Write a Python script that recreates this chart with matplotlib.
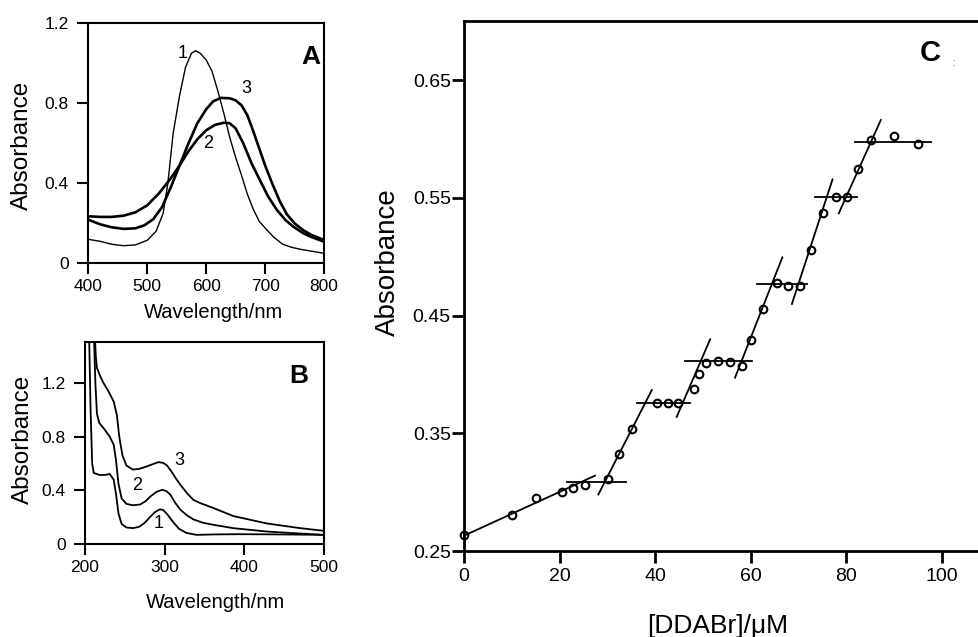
import matplotlib
matplotlib.use("Agg")
import matplotlib.pyplot as plt
from matplotlib.ticker import FixedLocator, FuncFormatter

plt.rcParams['font.family'] = ['Liberation Sans', 'DejaVu Sans']

# ---------------- Panel A: visible spectra ----------------
a_wl_1 = [400, 420, 440, 460, 480, 500, 515, 527, 535, 544, 555, 565, 575, 582, 590, 600,
          610, 620, 630, 640, 650, 660, 670, 680, 690, 703, 715, 730, 745, 760, 780, 800]
a_abs_1 = [0.12, 0.11, 0.095, 0.088, 0.092, 0.115, 0.16, 0.25, 0.40, 0.65, 0.84, 0.98, 1.05,
           1.063, 1.05, 1.017, 0.96, 0.86, 0.75, 0.63, 0.53, 0.44, 0.345, 0.27, 0.21, 0.167,
           0.13, 0.095, 0.08, 0.07, 0.06, 0.05]
a_wl_2 = [400, 420, 440, 460, 480, 500, 520, 540, 555, 570, 585, 600, 615, 630, 640, 650,
          663, 677, 691, 705, 720, 735, 748, 765, 780, 800]
a_abs_2 = [0.235, 0.232, 0.232, 0.238, 0.255, 0.29, 0.35, 0.425, 0.49, 0.56, 0.62, 0.665,
           0.692, 0.703, 0.70, 0.675, 0.60, 0.50, 0.417, 0.335, 0.267, 0.215, 0.183, 0.15,
           0.13, 0.108]
a_wl_3 = [400, 420, 440, 460, 480, 495, 510, 525, 540, 555, 570, 585, 600, 612, 625, 640,
          650, 660, 670, 680, 690, 700, 712, 725, 737, 750, 765, 780, 800]
a_abs_3 = [0.218, 0.195, 0.18, 0.172, 0.175, 0.19, 0.22, 0.28, 0.38, 0.49, 0.60, 0.70, 0.77,
           0.81, 0.827, 0.825, 0.815, 0.79, 0.74, 0.66, 0.575, 0.49, 0.40, 0.31, 0.245, 0.2,
           0.165, 0.14, 0.117]

# ---------------- Panel B: UV spectra ----------------
b_wl_1 = [205, 207, 209, 211, 218, 225, 231, 236, 239, 242, 246, 252, 260, 268, 275, 282,
          288, 294, 298, 303, 310, 318, 327, 340, 360, 390, 430, 470, 500]
b_abs_1 = [1.6, 1.0, 0.6, 0.53, 0.515, 0.515, 0.522, 0.48, 0.37, 0.23, 0.15, 0.125, 0.12,
           0.13, 0.16, 0.205, 0.24, 0.26, 0.255, 0.225, 0.17, 0.115, 0.085, 0.07, 0.073,
           0.075, 0.074, 0.072, 0.07]
b_wl_2 = [211, 213, 215, 218, 223, 231, 236, 239, 242, 246, 252, 260, 269, 276, 283, 290,
          297, 302, 307, 313, 320, 328, 336, 348, 361, 386, 428, 470, 500]
b_abs_2 = [1.6, 1.2, 0.97, 0.9, 0.865, 0.80, 0.74, 0.62, 0.45, 0.34, 0.30, 0.29, 0.295,
           0.32, 0.36, 0.39, 0.405, 0.395, 0.37, 0.31, 0.255, 0.215, 0.185, 0.16, 0.145,
           0.12, 0.095, 0.08, 0.07]
b_wl_3 = [212, 213.5, 215, 219, 223, 230, 236, 240, 243, 247, 252, 260, 268, 276, 285, 292,
          298, 303, 308, 314, 320, 328, 336, 345, 361, 386, 428, 470, 500]
b_abs_3 = [1.6, 1.4, 1.31, 1.25, 1.2, 1.13, 1.06, 0.96, 0.80, 0.66, 0.585, 0.555, 0.56,
           0.575, 0.595, 0.61, 0.605, 0.585, 0.545, 0.49, 0.44, 0.38, 0.33, 0.305, 0.27,
           0.21, 0.155, 0.12, 0.10]

# ---------------- Panel C: titration ----------------
c_conc = [0, 10.1, 15.1, 20.4, 22.9, 25.3, 30.1, 32.5, 35.1, 40.3, 42.7, 44.8, 48.2, 49.2,
          50.6, 53.2, 55.6, 58.1, 60.0, 62.5, 65.4, 67.8, 70.3, 72.5, 75.0, 77.8, 80.1,
          82.5, 85.1, 90.0, 95.0]
c_abs = [0.264, 0.281, 0.2948, 0.2998, 0.3033, 0.306, 0.311, 0.332, 0.354, 0.3755, 0.3755,
         0.3755, 0.3876, 0.400, 0.4095, 0.4117, 0.411, 0.4074, 0.4293, 0.456, 0.478,
         0.4754, 0.4751, 0.5057, 0.5369, 0.5508, 0.5508, 0.575, 0.5992, 0.6023, 0.5955]

# fitted line segments (start/end concentration and absorbance)
seg_x0 = [0.0, 21.5, 28.1, 36.1, 44.5, 46.2, 56.7, 61.2, 68.6, 73.4, 78.4, 81.8]
seg_y0 = [0.263, 0.3084, 0.298, 0.3755, 0.364, 0.4114, 0.3973, 0.4768, 0.4599, 0.5508,
          0.5369, 0.5978]
seg_x1 = [27.4, 33.8, 39.3, 47.3, 51.5, 60.2, 66.6, 71.7, 77.1, 82.3, 87.2, 97.7]
seg_y1 = [0.314, 0.3084, 0.3868, 0.3755, 0.4299, 0.4114, 0.4995, 0.4768, 0.5658, 0.5508,
          0.6162, 0.5978]

W, H = 979, 637
fig = plt.figure(figsize=(W / 100, H / 100), dpi=100)


def box(px_left, px_top, px_right, px_bottom):
    return [px_left / W, (H - px_bottom) / H, (px_right - px_left) / W,
            (px_bottom - px_top) / H]


def plain(v, _):
    s = f"{v:.2f}".rstrip('0').rstrip('.')
    return s


# Panel A
axA = fig.add_axes(box(88.3, 23.3, 324, 263.3))
axA.plot(a_wl_1, a_abs_1, color='black', lw=1.0)
axA.plot(a_wl_2, a_abs_2, color='black', lw=1.9)
axA.plot(a_wl_3, a_abs_3, color='black', lw=1.9)
axA.set_xlim(400, 800)
axA.set_ylim(0, 1.2)
axA.xaxis.set_major_locator(FixedLocator([400, 500, 600, 700, 800]))
axA.yaxis.set_major_locator(FixedLocator([0, 0.4, 0.8, 1.2]))
axA.yaxis.set_major_formatter(FuncFormatter(plain))
axA.text(560, 1.05, '1', fontsize=13, ha='center', va='center')
axA.text(604, 0.60, '2', fontsize=13, ha='center', va='center')
axA.text(668, 0.875, '3', fontsize=13, ha='center', va='center')
axA.text(778, 1.03, 'A', fontsize=19, fontweight='bold', ha='center', va='center')
axA.set_xlabel('Wavelength/nm', fontsize=14.5, va='center')
axA.xaxis.set_label_coords((214 - 88.3) / (324 - 88.3), (263.3 - 313) / 240)
axA.set_ylabel('Absorbance', fontsize=17.5, va='center')
axA.yaxis.set_label_coords((22 - 88.3) / (324 - 88.3), (263.3 - 145) / 240)

# Panel B
axB = fig.add_axes(box(85, 342.3, 324, 544.3))
axB.plot(b_wl_1, b_abs_1, color='black', lw=1.3)
axB.plot(b_wl_2, b_abs_2, color='black', lw=1.3)
axB.plot(b_wl_3, b_abs_3, color='black', lw=1.3)
axB.set_xlim(200, 500)
axB.set_ylim(0, 1.5)
axB.xaxis.set_major_locator(FixedLocator([200, 300, 400, 500]))
axB.yaxis.set_major_locator(FixedLocator([0, 0.4, 0.8, 1.2]))
axB.yaxis.set_major_formatter(FuncFormatter(plain))
axB.text(292, 0.155, '1', fontsize=13, ha='center', va='center')
axB.text(265, 0.44, '2', fontsize=13, ha='center', va='center')
axB.text(319, 0.62, '3', fontsize=13, ha='center', va='center')
axB.text(468, 1.25, 'B', fontsize=19, fontweight='bold', ha='center', va='center')
axB.set_xlabel('Wavelength/nm', fontsize=14.5, va='center')
axB.xaxis.set_label_coords((216 - 85) / (324 - 85), (544.3 - 602) / 202)
axB.set_ylabel('Absorbance', fontsize=17.5, va='center')
axB.yaxis.set_label_coords((23 - 85) / (324 - 85), (544.3 - 439) / 202)

for ax in (axA, axB):
    for sp in ax.spines.values():
        sp.set_linewidth(1.5)
    ax.tick_params(axis='both', direction='out', length=8, width=1.5, labelsize=12.5)
    ax.tick_params(axis='y', pad=6)
    ax.tick_params(axis='x', pad=3)

# Panel C
c_px_per_unit = 4.78
c_xmax = 110
axC = fig.add_axes(box(464, 21.4, 464 + c_xmax * c_px_per_unit, 551))
for x0, y0, x1, y1 in zip(seg_x0, seg_y0, seg_x1, seg_y1):
    axC.plot([x0, x1], [y0, y1], color='black', lw=1.3, clip_on=False)
axC.plot(c_conc, c_abs, linestyle='none', marker='o', ms=5.5, mfc='none',
         mec='black', mew=1.5, clip_on=False)
axC.set_xlim(0, c_xmax)
axC.set_ylim(0.25, 0.70)
axC.xaxis.set_major_locator(FixedLocator([0, 20, 40, 60, 80, 100]))
axC.yaxis.set_major_locator(FixedLocator([0.25, 0.35, 0.45, 0.55, 0.65]))
axC.yaxis.set_major_formatter(FuncFormatter(lambda v, _: f"{v:.2f}"))
for sp in axC.spines.values():
    sp.set_linewidth(2.0)
axC.tick_params(axis='both', direction='out', length=8.5, width=2.0, labelsize=14)
axC.tick_params(axis='y', pad=1)
axC.tick_params(axis='x', pad=3.5)
axC.text(97.5, 0.673, 'C', fontsize=21, fontweight='bold', ha='center', va='center')
axC.text(102.3, 0.665, ':', fontsize=7, color='#333333', ha='center', va='center')
axC_w = c_xmax * c_px_per_unit
axC.set_xlabel('[DDABr]/\u03bcM', fontsize=19, va='center')
axC.xaxis.set_label_coords((718 - 464) / axC_w, (551 - 626) / 529.6)
axC.set_ylabel('Absorbance', fontsize=20, va='center')
axC.yaxis.set_label_coords((388 - 464) / axC_w, (551 - 262) / 529.6)

fig.savefig('out.png', dpi=100)
